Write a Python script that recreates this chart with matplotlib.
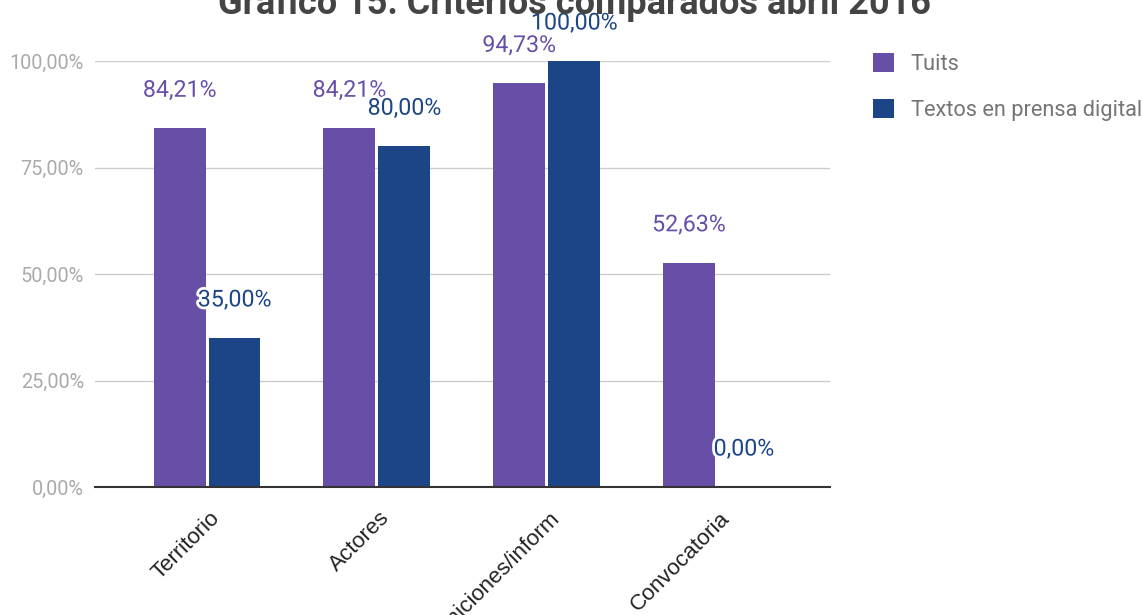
import matplotlib
matplotlib.use("Agg")
import matplotlib.pyplot as plt
import matplotlib.patheffects as pe
from matplotlib.patches import Patch
from matplotlib.transforms import ScaledTranslation
import numpy as np

categories = ["Territorio", "Actores", "Definiciones/inform", "Convocatoria"]
series_names = ["Tuits", "Textos en prensa digital"]
tuits = [84.21, 84.21, 94.73, 52.63]
textos = [35.00, 80.00, 100.00, 0.00]
yticks = [0, 25, 50, 75, 100]
title = "Gráfico 15: Criterios comparados abril 2016"

c_tuits = "#674ea7"
c_textos = "#1c4587"

W, H, DPI = 1142, 615, 100
fig = plt.figure(figsize=(W / DPI, H / DPI), dpi=DPI)
ax = fig.add_axes([95 / W, 1 - 487 / H, (830 - 95) / W, 426 / H])

x = np.arange(len(categories))
bw = 0.305
gap = 0.009
b1 = ax.bar(x - bw / 2 - gap, tuits, width=bw, color=c_tuits, zorder=3)
b2 = ax.bar(x + bw / 2 + gap, textos, width=bw, color=c_textos, zorder=3)

ax.set_xlim(-0.66, 3.67)
ax.set_ylim(0, 100)
ax.set_yticks(yticks)
ax.set_yticklabels([f"{v:.2f}".replace(".", ",") + "%" for v in yticks],
                   fontfamily="Roboto", fontsize=14.3, color="#aaaaaa")
ax.tick_params(axis="y", length=0, pad=8)
ax.grid(axis="y", color="#cccccc", linewidth=1, zorder=0)
for s in ["top", "right", "left"]:
    ax.spines[s].set_visible(False)
ax.spines["bottom"].set_color("#333333")
ax.spines["bottom"].set_linewidth(1.5)
ax.spines["bottom"].set_zorder(4)
ax.set_xticks([])

halo = [pe.withStroke(linewidth=4, foreground="white")]
off = ScaledTranslation(0, 38 / DPI, fig.dpi_scale_trans)
for bars, vals, col in [(b1, tuits, c_tuits), (b2, textos, c_textos)]:
    for rect, v in zip(bars, vals):
        cx = rect.get_x() + rect.get_width() / 2
        ax.text(cx, v, f"{v:.2f}".replace(".", ",") + "%",
                transform=ax.transData + off, ha="center", va="center",
                fontfamily="Roboto", fontsize=16.7, color=col,
                path_effects=halo, zorder=5, clip_on=False)

# category labels
loff = ScaledTranslation(10 / DPI, -28 / DPI, fig.dpi_scale_trans)
for xi, lab in zip(x, categories):
    ax.text(xi, 0, lab, transform=ax.transData + loff, rotation=45,
            rotation_mode="anchor", ha="right", va="center",
            fontfamily="Liberation Sans", fontsize=16, color="#222222",
            clip_on=False)

handles = [Patch(facecolor=c_tuits, edgecolor="none"),
           Patch(facecolor=c_textos, edgecolor="none")]
leg = fig.legend(handles, series_names, loc="upper left",
                 bbox_to_anchor=(853 / W, 1 - 33 / H), frameon=False,
                 prop={"family": "Roboto", "size": 15.7},
                 handlelength=1.0, handleheight=1.0, handletextpad=0.75,
                 labelspacing=1.1)
for t in leg.get_texts():
    t.set_color("#757575")

fig.text(575 / W, 1 - 14 / H, title, ha="center", va="baseline",
         fontfamily="Roboto", fontweight="bold", fontsize=26, color="#444444")

fig.savefig("out.png", dpi=DPI)
